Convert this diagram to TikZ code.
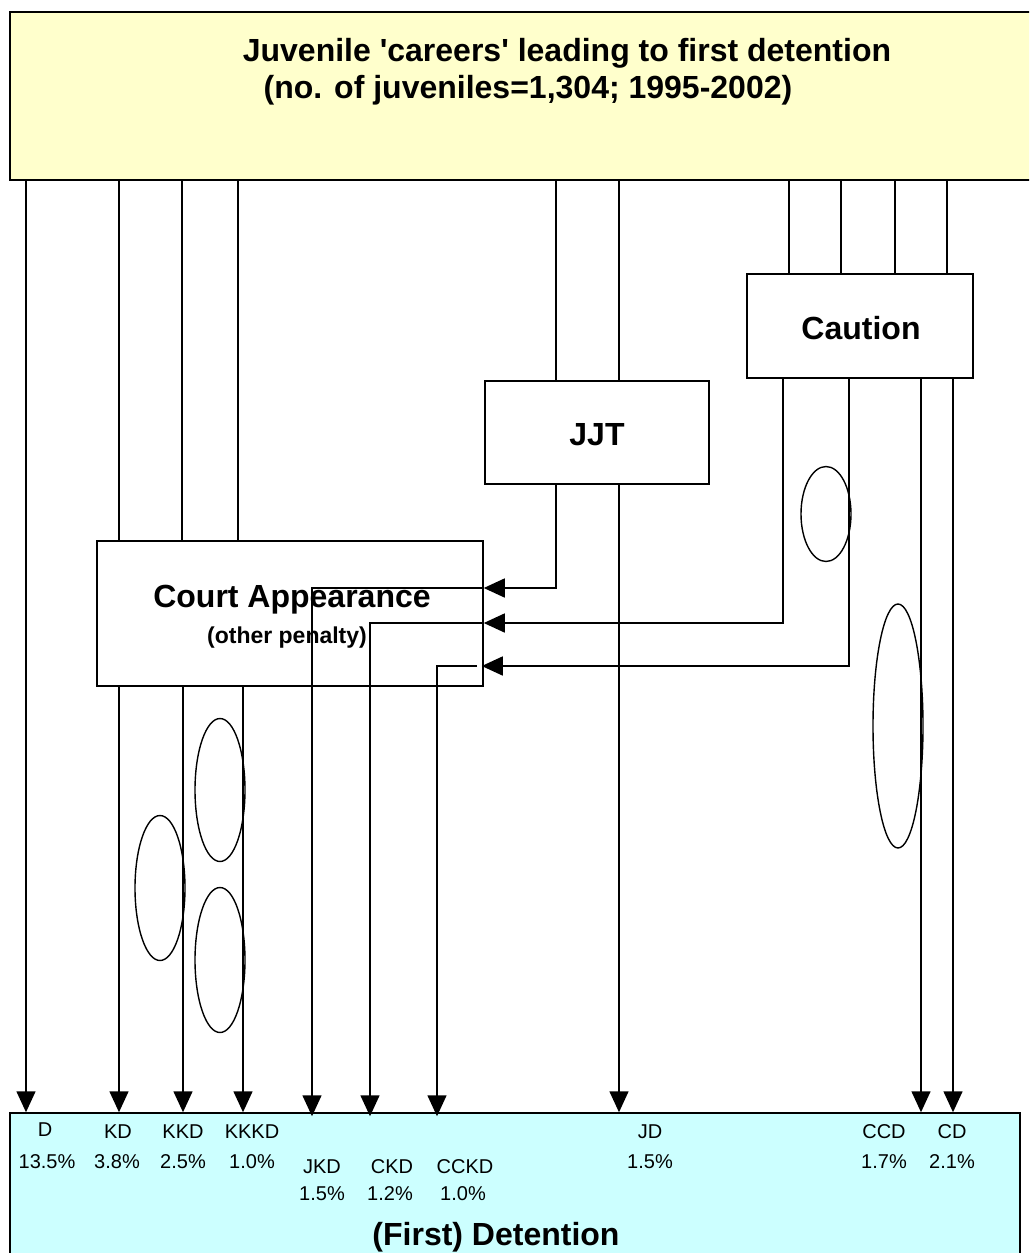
\documentclass[tikz,border=0pt]{standalone}
\usepackage{fontspec}
\setmainfont{Liberation Sans}
\usetikzlibrary{arrows.meta,shapes.geometric}
\definecolor{topfill}{HTML}{FFFFCC}
\definecolor{detfill}{HTML}{CCFFFF}
\begin{document}
\begin{tikzpicture}[x=1pt,y=-1pt,
  ln/.style={line width=1.5pt},
  arr/.style={ln,-{Triangle[length=21pt,width=19pt]}},
  blk/.style={draw,line width=1.5pt,rectangle,inner sep=0pt},
  ell/.style={draw,line width=1.4pt,ellipse,inner sep=0pt},
  big/.style={font=\fontsize{32}{36}\selectfont\bfseries,inner sep=0pt},
  mid/.style={font=\fontsize{23}{27}\selectfont\bfseries,inner sep=0pt},
  lab/.style={font=\fontsize{20}{24}\selectfont,inner sep=0pt}
]
\useasboundingbox (0,0) rectangle (1029,1253);
\clip (0,0) rectangle (1029,1253);
% boxes
\node[blk,fill=topfill,minimum width=1040pt,minimum height=168pt] (top) at (530,96) {};
\node[blk,fill=detfill,minimum width=1010pt,minimum height=160pt] (det) at (515,1193) {};
\node[blk,minimum width=386pt,minimum height=145pt] (court) at (290,613.5) {};
\node[blk,minimum width=224pt,minimum height=103pt] (jjt) at (597,432.5) {};
\node[blk,minimum width=226pt,minimum height=104pt] (caut) at (860,326) {};
% texts
\node[big] (t1) at (567,53) {Juvenile \textquotesingle careers\textquotesingle{} leading to first detention};
\node[big] (t2) at (528,90) {(no. of juveniles=1,304; 1995-2002)};
\node[big] (tc) at (292,600) {Court Appearance};
\node[mid] (tp) at (287,638) {(other penalty)};
\node[big] (tj) at (597,435) {JJT};
\node[big] (tca) at (861,328) {Caution};
\node[big] (td) at (496,1237) {(First) Detention};
% labels
\node[lab] (lD) at (45,1130) {D};
\node[lab] (pD) at (47,1162) {13.5\%};
\node[lab] (lKD) at (118,1132) {KD};
\node[lab] (pKD) at (117,1162) {3.8\%};
\node[lab] (lKKD) at (183,1132) {KKD};
\node[lab] (pKKD) at (183,1162) {2.5\%};
\node[lab] (lKKKD) at (252,1132) {KKKD};
\node[lab] (pKKKD) at (252,1162) {1.0\%};
\node[lab] (lJKD) at (322,1167) {JKD};
\node[lab] (pJKD) at (322,1194) {1.5\%};
\node[lab] (lCKD) at (392,1167) {CKD};
\node[lab] (pCKD) at (390,1194) {1.2\%};
\node[lab] (lCCKD) at (465,1167) {CCKD};
\node[lab] (pCCKD) at (463,1194) {1.0\%};
\node[lab] (lJD) at (650,1132) {JD};
\node[lab] (pJD) at (650,1162) {1.5\%};
\node[lab] (lCCD) at (884,1132) {CCD};
\node[lab] (pCCD) at (884,1162) {1.7\%};
\node[lab] (lCD) at (952,1132) {CD};
\node[lab] (pCD) at (952,1162) {2.1\%};
% x positions
\coordinate (xD) at (26,0);
\coordinate (xKD) at (119,0);
\coordinate (xKKDa) at (182,0);
\coordinate (xKKDb) at (183,0);
\coordinate (xKKKDa) at (238,0);
\coordinate (xKKKDb) at (243,0);
\coordinate (xJa) at (556,0);
\coordinate (xJb) at (619,0);
\coordinate (xCt1) at (789,0);
\coordinate (xCt2) at (841,0);
\coordinate (xCt3) at (895,0);
\coordinate (xCt4) at (947,0);
\coordinate (xCb1) at (783,0);
\coordinate (xCb2) at (849,0);
\coordinate (xCCD) at (921,0);
\coordinate (xCD) at (953,0);
\coordinate (xJKD) at (312,0);
\coordinate (xCKD) at (370,0);
\coordinate (xCCKD) at (437,0);
\coordinate (y1) at (0,588);
\coordinate (y2) at (0,623);
\coordinate (y3) at (0,666);
\coordinate (g3) at (477,666);
% connectors
\draw[arr] (top.south -| xD) -- (det.north -| xD);
\draw[ln] (top.south -| xKD) -- (court.north -| xKD);
\draw[arr] (court.south -| xKD) -- (det.north -| xKD);
\draw[ln] (top.south -| xKKDa) -- (court.north -| xKKDa);
\draw[arr] (court.south -| xKKDb) -- (det.north -| xKKDb);
\draw[ln] (top.south -| xKKKDa) -- (court.north -| xKKKDa);
\draw[arr] (court.south -| xKKKDb) -- (det.north -| xKKKDb);
\draw[ln] (top.south -| xJa) -- (jjt.north -| xJa);
\draw[ln] (top.south -| xJb) -- (jjt.north -| xJb);
\draw[ln] (top.south -| xCt1) -- (caut.north -| xCt1);
\draw[ln] (top.south -| xCt2) -- (caut.north -| xCt2);
\draw[ln] (top.south -| xCt3) -- (caut.north -| xCt3);
\draw[ln] (top.south -| xCt4) -- (caut.north -| xCt4);
\draw[arr] (jjt.south -| xJa) -- (xJa |- y1) -- (court.east |- y1);
\draw[arr] (jjt.south -| xJb) -- (det.north -| xJb);
\draw[arr] (caut.south -| xCb1) -- (xCb1 |- y2) -- (court.east |- y2);
\draw[arr,shorten >=-2pt] (caut.south -| xCb2) -- (xCb2 |- y3) -- (court.east |- y3);
\draw[arr] (caut.south -| xCCD) -- (det.north -| xCCD);
\draw[arr] (caut.south -| xCD) -- (det.north -| xCD);
\draw[arr,shorten >=-4pt] (court.east |- y1) -- (xJKD |- y1) -- (det.north -| xJKD);
\draw[arr,shorten >=-4pt] (court.east |- y2) -- (xCKD |- y2) -- (det.north -| xCKD);
\draw[arr,shorten >=-4pt] (g3) -- (xCCKD |- y3) -- (det.north -| xCCKD);
% ellipses
\node[ell,minimum width=50pt,minimum height=143pt] (e1) at (220,790) {};
\node[ell,minimum width=50pt,minimum height=145pt] (e2) at (160,888) {};
\node[ell,minimum width=50pt,minimum height=145pt] (e3) at (220,960) {};
\node[ell,minimum width=50pt,minimum height=95pt] (e4) at (826,514) {};
\node[ell,minimum width=50pt,minimum height=244pt] (e5) at (898,726) {};
\end{tikzpicture}
\end{document}
